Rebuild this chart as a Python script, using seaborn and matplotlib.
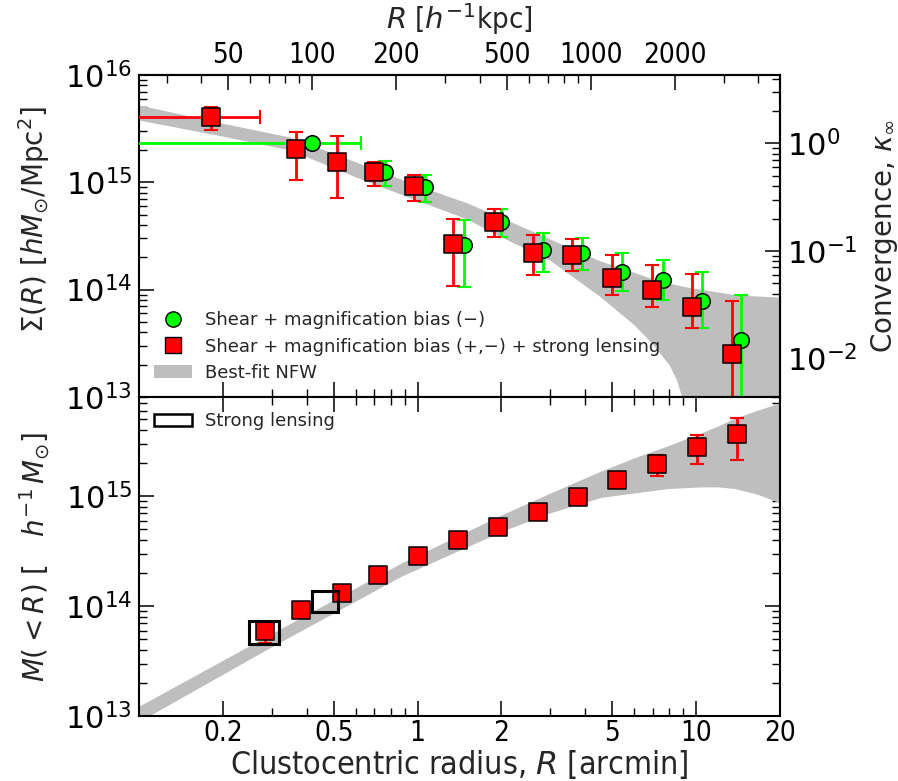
import numpy as np
import pandas as pd
import matplotlib

matplotlib.use("Agg")
import matplotlib.pyplot as plt
import seaborn as sns
from matplotlib.lines import Line2D
from matplotlib.patches import Patch, Rectangle
from matplotlib.ticker import FixedLocator, FixedFormatter, LogLocator, NullFormatter

# ---- surface mass density profile (top panel) -----------------------------
# combined shear + magnification + strong lensing (red squares)
red_x = [0.182, 0.367, 0.515, 0.698, 0.967, 1.343, 1.876, 2.606, 3.59, 5.00, 6.96, 9.70, 13.4]
red_sig = [4.06e15, 2.06e15, 1.56e15, 1.24e15, 9.2e14, 2.68e14, 4.29e14, 2.21e14,
           2.09e14, 1.29e14, 1.0e14, 6.84e13, 2.5e13]
red_sig_hi = [5.0e15, 2.94e15, 2.68e15, 1.55e15, 1.17e15, 4.6e14, 5.7e14, 3.24e14,
              2.99e14, 2.09e14, 1.69e14, 1.4e14, 7.9e13]
red_sig_lo = [3.1e15, 1.04e15, 7.07e14, 9.2e14, 6.7e14, 1.09e14, 3.1e14, 1.36e14,
              1.49e14, 8.85e13, 6.9e13, 4.37e13, 5e12]
red_first_xspan = [0.08, 0.272]

# shear + magnification bias (green circles)
grn_x = [0.417, 0.763, 1.06, 1.464, 2.0, 2.817, 3.90, 5.43, 7.61, 10.51, 14.47]
grn_sig = [2.32e15, 1.25e15, 9.1e14, 2.59e14, 4.3e14, 2.34e14, 2.21e14, 1.47e14,
           1.22e14, 7.9e13, 3.4e13]
grn_sig_hi = [2.42e15, 1.57e15, 1.17e15, 4.47e14, 5.7e14, 3.4e14, 3.05e14, 2.21e14,
              1.89e14, 1.47e14, 9.0e13]
grn_sig_lo = [2.22e15, 9.2e14, 6.6e14, 1.06e14, 3.1e14, 1.46e14, 1.54e14, 9.8e13,
              7.95e13, 4.37e13, 5e12]
grn_first_xspan = [0.08, 0.625]

# best-fit NFW band, log10 Sigma
nfw_sig_x = [0.1, 0.2, 0.35, 0.6, 1.0, 1.5, 2.0, 3.0, 4.5, 6.0, 7.0, 7.5, 8.0, 8.5,
             9.0, 9.5, 10.0, 14.0, 20.0]
nfw_sig_hi = [15.72, 15.55, 15.42, 15.19, 14.97, 14.81, 14.67, 14.47, 14.27, 14.16,
              14.10, 14.08, 14.06, 14.045, 14.03, 14.02, 14.01, 13.95, 13.93]
nfw_sig_lo = [15.58, 15.43, 15.30, 15.05, 14.83, 14.66, 14.49, 14.27, 13.94, 13.67,
              13.49, 13.39, 13.30, 13.16, 12.95, 12.72, 12.45, 11.8, 11.5]

# ---- projected cumulative mass (bottom panel) -----------------------------
mass_x = [0.283, 0.383, 0.534, 0.722, 1.005, 1.40, 1.94, 2.70, 3.76, 5.2, 7.24, 10.08, 14.05]
mass = [5.93e13, 9.2e13, 1.32e14, 1.9e14, 2.88e14, 3.97e14, 5.2e14, 7.26e14, 9.8e14,
        1.4e15, 1.97e15, 2.8e15, 3.67e15]
mass_hi = [6.6e13, 9.6e13, 1.37e14, 1.97e14, 3.0e14, 4.15e14, 5.45e14, 7.6e14, 1.03e15,
           1.48e15, 2.35e15, 3.57e15, 5.1e15]
mass_lo = [4.6e13, 8.8e13, 1.27e14, 1.83e14, 2.76e14, 3.8e14, 4.95e14, 6.9e14, 9.3e14,
           1.32e15, 1.52e15, 1.97e15, 2.12e15]

# strong lensing constraints: radius and mass ranges
sl_r_lo = [0.249, 0.417]
sl_r_hi = [0.318, 0.518]
sl_m_lo = [4.5e13, 8.83e13]
sl_m_hi = [7.31e13, 1.37e14]

nfw_m_x = [0.1, 0.294, 0.87, 2.0, 3.0, 4.56, 6.0, 7.93, 10.4, 12.0, 13.74, 16.5, 20.0]
nfw_m_hi = [13.09, 13.74, 14.39, 14.83, 15.03, 15.23, 15.35, 15.46, 15.575, 15.64,
            15.71, 15.78, 15.85]
nfw_m_lo = [12.95, 13.62, 14.27, 14.68, 14.85, 14.99, 15.03, 15.07, 15.085, 15.085,
            15.07, 15.02, 14.94]

KPC_PER_ARCMIN = 239.0   # h^-1 kpc per arcmin
SIGMA_CRIT = 2.3e15      # h M_sun / Mpc^2

RED, GREEN, BAND = "#ff0000", "#00ff00", "#bebebe"

sns.set_theme(style="ticks")
plt.rcParams["font.family"] = ["DejaVu Sans"]
plt.rcParams.update({
    "mathtext.fontset": "dejavusans",
    "axes.linewidth": 1.5,
    "axes.edgecolor": "black",
    "xtick.direction": "in",
    "ytick.direction": "in",
    "xtick.major.size": 10.5,
    "ytick.major.size": 10.5,
    "xtick.minor.size": 5.5,
    "ytick.minor.size": 5.5,
    "xtick.major.width": 1.1,
    "ytick.major.width": 1.1,
    "xtick.minor.width": 1.0,
    "ytick.minor.width": 1.0,
    "xtick.color": "black",
    "ytick.color": "black",
})

fig = plt.figure(figsize=(8.98, 7.81), dpi=100)
ax1 = fig.add_axes([0.1548, 0.4917, 0.7138, 0.4123])
ax2 = fig.add_axes([0.1548, 0.0832, 0.7138, 0.4085])

for ax in (ax1, ax2):
    ax.set_xscale("log")
    ax.set_yscale("log")
    ax.set_xlim(0.1, 20)

ax1.set_ylim(1e13, 1e16)
ax2.set_ylim(1e13, 8e15)


def draw_points(ax, x, y, lo, hi, color, marker, size):
    x, y = np.asarray(x), np.asarray(y)
    yerr = [y - np.asarray(lo), np.asarray(hi) - y]
    ax.errorbar(x, y, yerr=yerr, fmt="none", ecolor=color, elinewidth=2,
                capsize=5, capthick=1.5, zorder=3)
    df = pd.DataFrame({"x": x, "y": y})
    sns.scatterplot(data=df, x="x", y="y", ax=ax, marker=marker, s=size,
                    color=color, edgecolor="black", linewidth=1.1, zorder=4,
                    legend=False)


def draw_xspan(ax, x0, y0, span, color):
    ax.errorbar([x0], [y0], xerr=[[x0 - span[0]], [span[1] - x0]], fmt="none",
                ecolor=color, elinewidth=2, capsize=5, capthick=1.5, zorder=3)


# ---- top panel ----
ax1.fill_between(nfw_sig_x, 10 ** np.array(nfw_sig_lo), 10 ** np.array(nfw_sig_hi),
                 color=BAND, lw=0, zorder=1)
draw_xspan(ax1, grn_x[0], grn_sig[0], grn_first_xspan, GREEN)
draw_points(ax1, grn_x, grn_sig, grn_sig_lo, grn_sig_hi, GREEN, "o", 125)
draw_xspan(ax1, red_x[0], red_sig[0], red_first_xspan, RED)
draw_points(ax1, red_x, red_sig, red_sig_lo, red_sig_hi, RED, "s", 150)

handles = [
    Line2D([], [], ls="none", marker="o", markersize=11, markerfacecolor=GREEN,
           markeredgecolor="black"),
    Line2D([], [], ls="none", marker="s", markersize=12, markerfacecolor=RED,
           markeredgecolor="black"),
    Patch(facecolor=BAND, edgecolor="none"),
]
labels = ["Shear + magnification bias (\u2212)",
          "Shear + magnification bias (+,\u2212) + strong lensing",
          "Best-fit NFW"]
ax1.legend(handles, labels, loc="lower left", frameon=False, fontsize=13,
           handlelength=2.1, handletextpad=0.7, labelspacing=0.45,
           borderaxespad=0.45)

ax1.set_ylabel(r"$\Sigma(R)$ [$hM_{\odot}$/Mpc$^2$]", fontsize=20, labelpad=8)
ax1.tick_params(axis="x", which="both", labelbottom=False, top=False)
ax1.tick_params(axis="y", which="both", right=False, labelsize=22, pad=5)

top = ax1.secondary_xaxis("top", functions=(lambda r: r * KPC_PER_ARCMIN,
                                            lambda r: r / KPC_PER_ARCMIN))
top.xaxis.set_major_locator(FixedLocator([50, 100, 200, 500, 1000, 2000]))
top.xaxis.set_major_formatter(FixedFormatter(["50", "100", "200", "500", "1000", "2000"]))
top.xaxis.set_minor_locator(LogLocator(base=10, subs=np.arange(2, 10)))
top.xaxis.set_minor_formatter(NullFormatter())
top.tick_params(axis="x", which="major", direction="in", length=10.5, width=1.1,
                labelsize=20, pad=4)
top.tick_params(axis="x", which="minor", direction="in", length=5.5, width=1.0)
top.set_xlabel(r"$R$ [$h^{-1}$kpc]", fontsize=21, labelpad=9, fontstretch="condensed")
top.xaxis.get_offset_text().set_visible(False)
for t in top.get_xticklabels():
    t.set_fontstretch("condensed")

right = ax1.secondary_yaxis("right", functions=(lambda s: s / SIGMA_CRIT,
                                                lambda k: k * SIGMA_CRIT))
right.tick_params(axis="y", which="major", direction="in", length=10.5, width=1.1,
                  labelsize=22, pad=5)
right.tick_params(axis="y", which="minor", direction="in", length=5.5, width=1.0)
right.set_ylabel(r"Convergence, $\kappa_{\infty}$", fontsize=20, labelpad=8)
right.yaxis.get_offset_text().set_visible(False)

# ---- bottom panel ----
ax2.fill_between(nfw_m_x, 10 ** np.array(nfw_m_lo), 10 ** np.array(nfw_m_hi),
                 color=BAND, lw=0, zorder=1)
draw_points(ax2, mass_x, mass, mass_lo, mass_hi, RED, "s", 150)
for r0, r1, m0, m1 in zip(sl_r_lo, sl_r_hi, sl_m_lo, sl_m_hi):
    ax2.add_patch(Rectangle((r0, m0), r1 - r0, m1 - m0, fill=False,
                            edgecolor="black", lw=2.2, zorder=5))
ax2.legend([Patch(facecolor="none", edgecolor="black", lw=1.8)], ["Strong lensing"],
           loc="upper left", frameon=False, fontsize=13, handlelength=2.1,
           handletextpad=0.7, borderaxespad=0.45)

ticks = [0.2, 0.5, 1, 2, 5, 10, 20]
minor_ticks = [0.3, 0.4, 0.6, 0.7, 0.8, 0.9, 3, 4, 6, 7, 8, 9]
for ax in (ax1, ax2):
    ax.xaxis.set_major_locator(FixedLocator(ticks))
    ax.xaxis.set_minor_locator(FixedLocator(minor_ticks))
    ax.xaxis.set_minor_formatter(NullFormatter())
ax2.xaxis.set_major_formatter(FixedFormatter(["0.2", "0.5", "1", "2", "5", "10", "20"]))
ax1.tick_params(axis="x", which="both", bottom=True)
ax2.tick_params(axis="x", which="both", top=True, labelsize=20, pad=2)
ax2.tick_params(axis="y", which="both", right=True, labelsize=22, pad=5)
for t in ax2.get_xticklabels():
    t.set_fontstretch("condensed")
ax2.set_xlabel(r"Clustocentric radius, $R$ [arcmin]", fontsize=23, labelpad=0,
               fontstretch="condensed")
ax2.set_ylabel(r"$M(<R)$ [   $h^{-1}\,M_{\odot}$]", fontsize=20, labelpad=8)
ax1.yaxis.set_label_coords(-0.135, 0.55)
ax2.yaxis.set_label_coords(-0.135, 0.5)
ax2.xaxis.set_label_coords(0.5, -0.1)
ax2.set_xlim(0.1, 20)

fig.savefig("out.png", dpi=100)
